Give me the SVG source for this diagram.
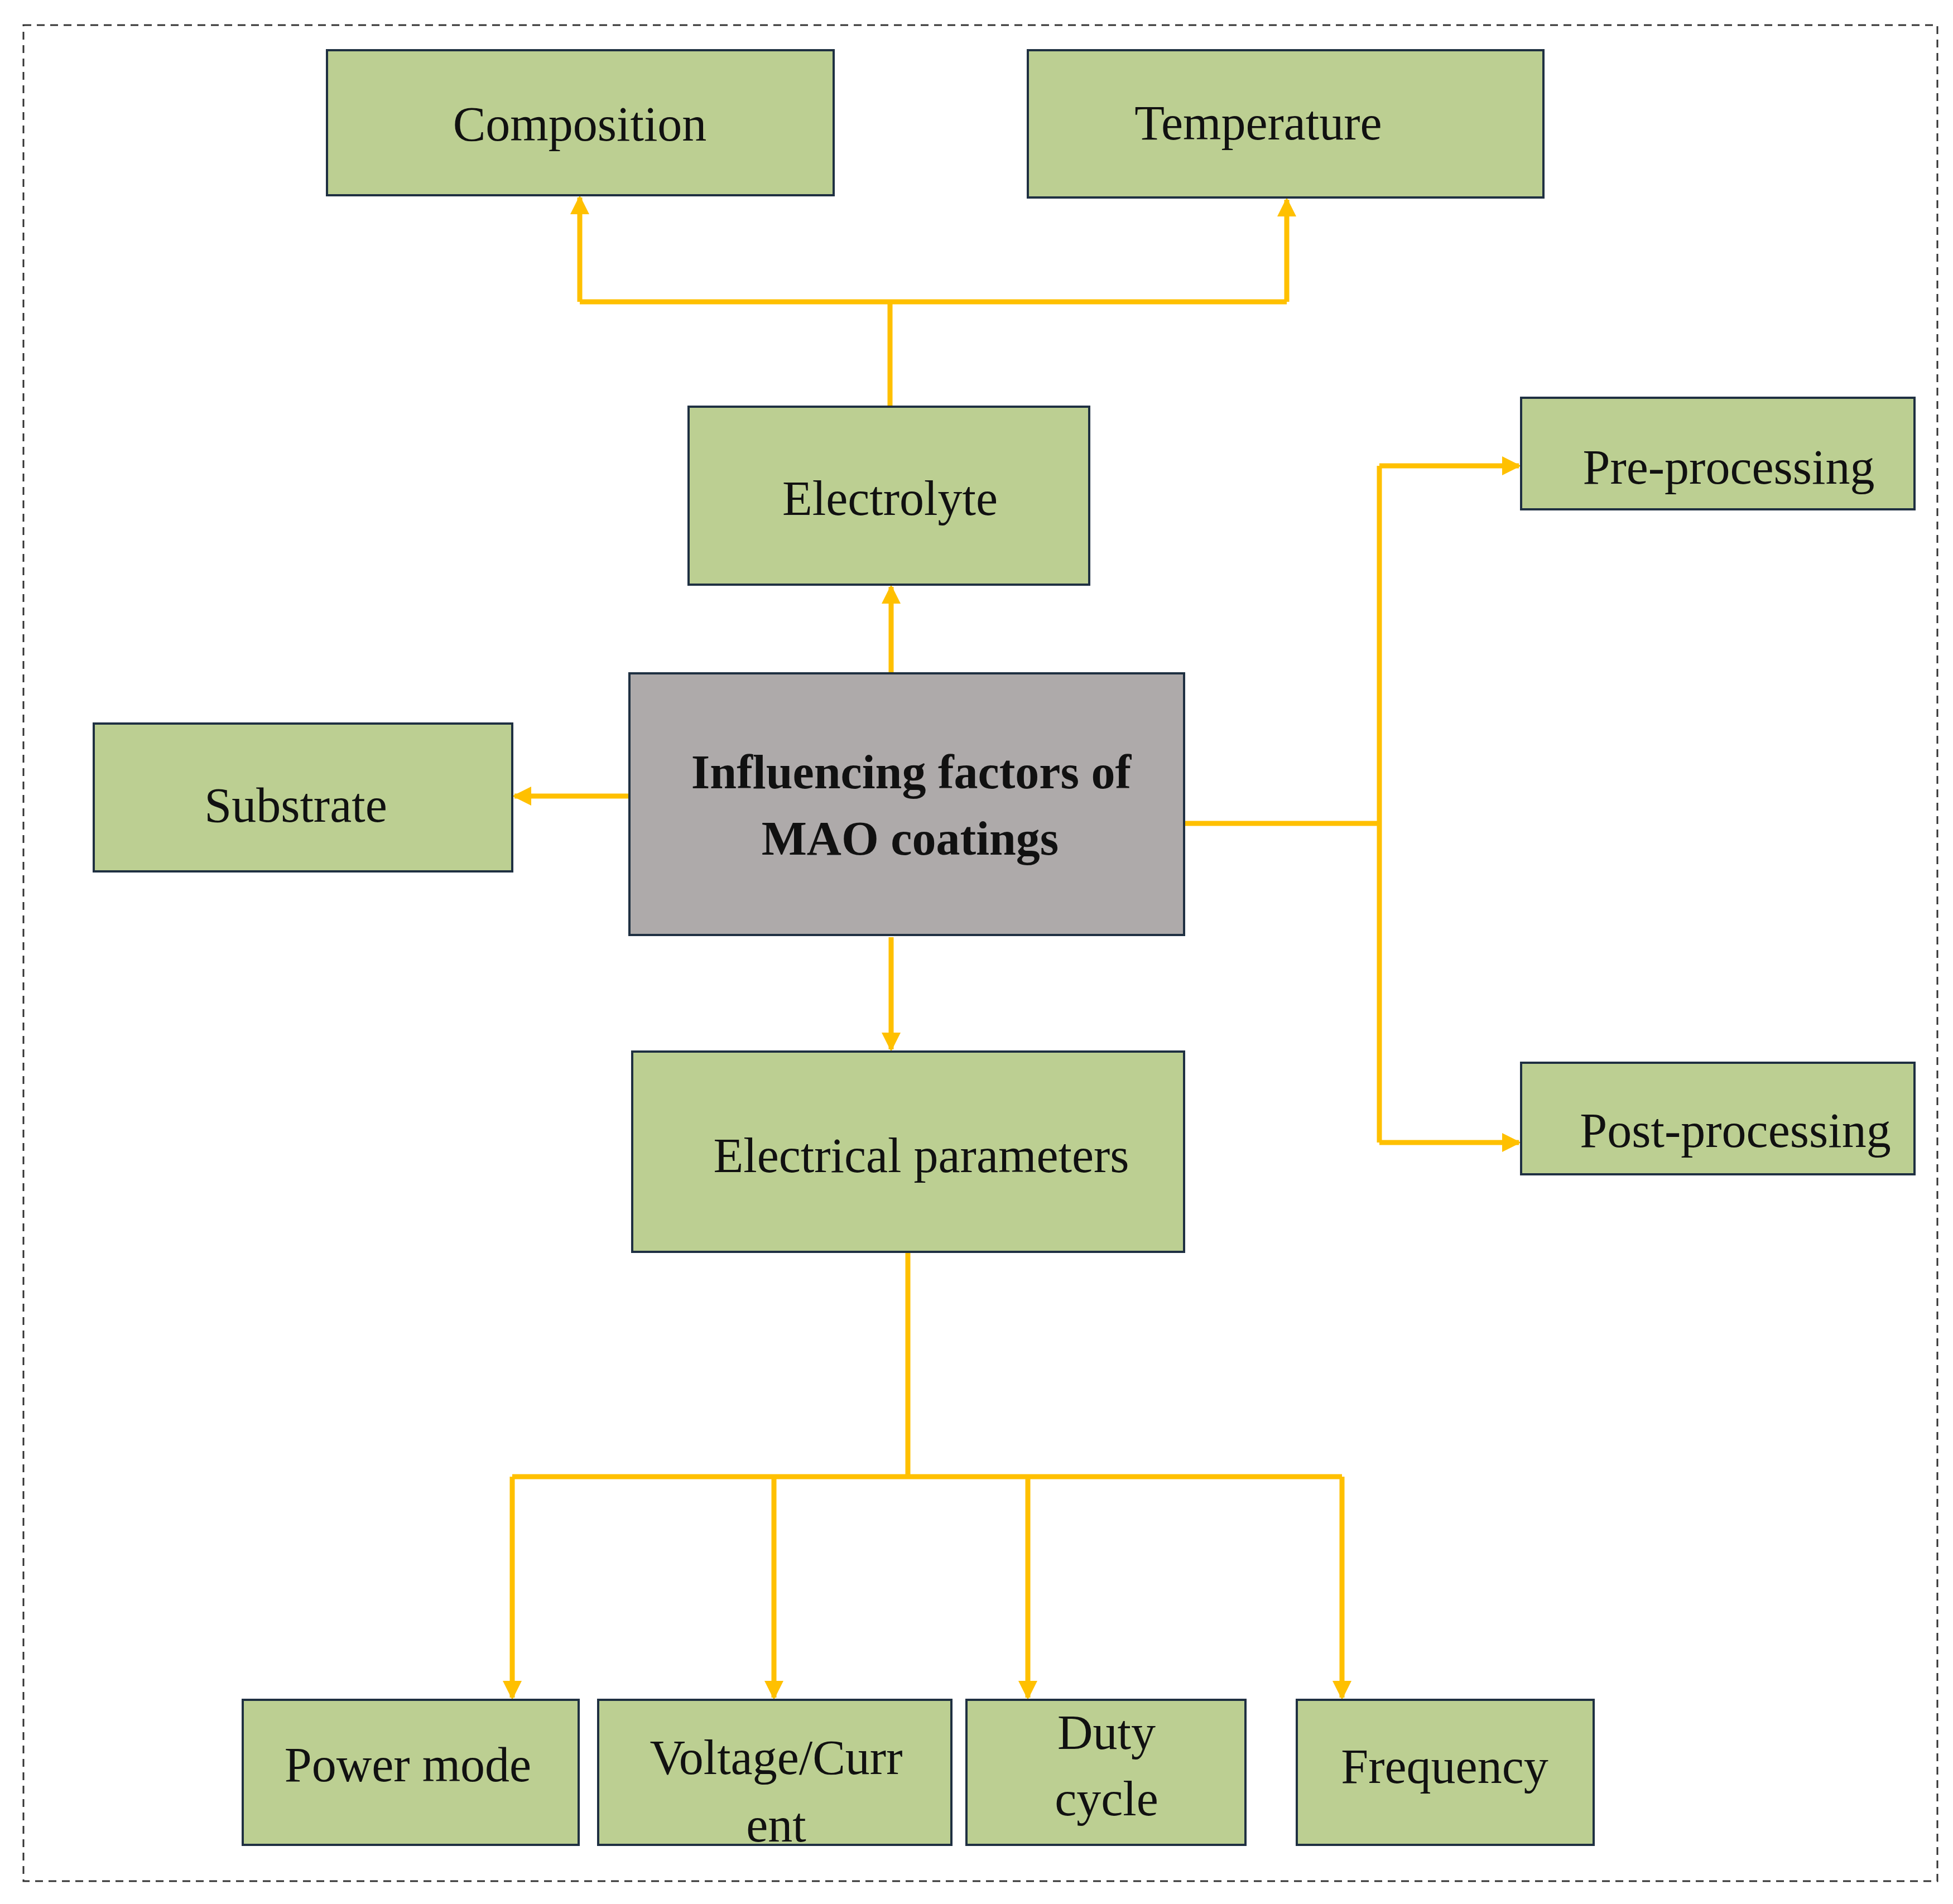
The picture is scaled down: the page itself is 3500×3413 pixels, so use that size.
<svg xmlns="http://www.w3.org/2000/svg" width="3500" height="3413" viewBox="0 0 3500 3413">
<style>
.b{fill:#BCCF92;stroke:#1F3042;stroke-width:4}
.c{fill:#AEAAAA;stroke:#1F3042;stroke-width:4}
.t{font-family:"Liberation Serif",serif;font-size:88px;fill:#111;text-anchor:middle;dominant-baseline:central}
.tb{font-weight:bold;font-size:86px}
.l{fill:none;stroke:#FFC000;stroke-width:9}
</style>
<defs>
<marker id="a" markerUnits="userSpaceOnUse" markerWidth="34" markerHeight="34" refX="30" refY="17" orient="auto">
<path d="M0,0 L34,17 L0,34 Z" fill="#FFC000"/>
</marker>
</defs>
<rect x="42" y="45" width="3430" height="3327" fill="none" stroke="#333" stroke-width="3" stroke-dasharray="14,10"/>
<g id="connectors">
<path class="l" d="M1595,729 V541"/>
<path class="l" d="M1039,541 H2306"/>
<path class="l" d="M1039,541 V354" marker-end="url(#a)"/>
<path class="l" d="M2306,541 V358" marker-end="url(#a)"/>
<path class="l" d="M1597,1207 V1052" marker-end="url(#a)"/>
<path class="l" d="M1128,1427 H922" marker-end="url(#a)"/>
<path class="l" d="M2122,1476 H2472"/>
<path class="l" d="M2472,835 V2048"/>
<path class="l" d="M2472,835 H2722" marker-end="url(#a)"/>
<path class="l" d="M2472,2048 H2722" marker-end="url(#a)"/>
<path class="l" d="M1597,1680 V1881" marker-end="url(#a)"/>
<path class="l" d="M1627,2244 V2647"/>
<path class="l" d="M918,2647 H2405"/>
<path class="l" d="M918,2647 V3043" marker-end="url(#a)"/>
<path class="l" d="M1387,2647 V3043" marker-end="url(#a)"/>
<path class="l" d="M1842,2647 V3043" marker-end="url(#a)"/>
<path class="l" d="M2405,2647 V3043" marker-end="url(#a)"/>
</g>
<g id="composition"><rect class="b" x="586" y="90" width="908" height="260"/><text class="t" x="1039" y="222">Composition</text></g>
<g id="temperature"><rect class="b" x="1842" y="90" width="924" height="264"/><text class="t" x="2255" y="220">Temperature</text></g>
<g id="electrolyte"><rect class="b" x="1234" y="729" width="718" height="319"/><text class="t" x="1595" y="893">Electrolyte</text></g>
<g id="center"><rect class="c" x="1128" y="1207" width="994" height="469"/><text class="t tb" x="1633" y="1384">Influencing factors of</text><text class="t tb" x="1631" y="1503">MAO coatings</text></g>
<g id="substrate"><rect class="b" x="168" y="1297" width="750" height="265"/><text class="t" x="530" y="1443">Substrate</text></g>
<g id="pre"><rect class="b" x="2726" y="713" width="705" height="200"/><text class="t" x="3098" y="837">Pre-processing</text></g>
<g id="post"><rect class="b" x="2726" y="1905" width="705" height="200"/><text class="t" x="3110" y="2026">Post-processing</text></g>
<g id="electrical"><rect class="b" x="1133" y="1885" width="989" height="359"/><text class="t" x="1651" y="2071">Electrical parameters</text></g>
<g id="power"><rect class="b" x="435" y="3047" width="602" height="260"/><text class="t" x="731" y="3163">Power mode</text></g>
<g id="voltage"><rect class="b" x="1072" y="3047" width="633" height="260"/><text class="t" x="1391" y="3150">Voltage/Curr</text><text class="t" x="1391" y="3271">ent</text></g>
<g id="duty"><rect class="b" x="1732" y="3047" width="500" height="260"/><text class="t" x="1983" y="3105">Duty</text><text class="t" x="1983" y="3224">cycle</text></g>
<g id="frequency"><rect class="b" x="2324" y="3047" width="532" height="260"/><text class="t" x="2589" y="3166">Frequency</text></g>
</svg>
